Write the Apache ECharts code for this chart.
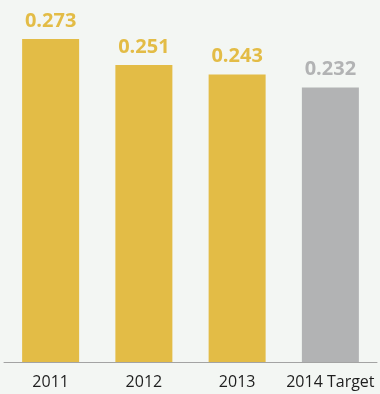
<!DOCTYPE html>
<html>
<head>
<meta charset="utf-8">
<script src="https://cdn.jsdelivr.net/npm/echarts@6/dist/echarts.min.js"></script>
<style>
  html, body { margin: 0; padding: 0; background: #F3F6F3; }
  #chart { width: 380px; height: 394px; }
</style>
</head>
<body>
<div id="chart"></div>
<script>
// Categories and values
const categories = ['2011', '2012', '2013', '2014 Target'];
const values = [0.273, 0.251, 0.243, 0.232];
const isTarget = [false, false, false, true];

const GOLD = '#E3BC46';
const GREY = '#B2B3B4';

const chart = echarts.init(document.getElementById('chart'));

chart.setOption({
  backgroundColor: '#F3F6F3',
  animation: false,
  grid: { left: 4, right: 3, top: 7, bottom: 32 },
  xAxis: {
    type: 'category',
    data: categories,
    axisLine: { show: true, lineStyle: { color: '#A3A3A3', width: 1 } },
    axisTick: { show: false },
    axisLabel: {
      interval: 0,
      color: '#1E1E1E',
      fontFamily: 'Open Sans',
      fontSize: 16,
      margin: 12
    }
  },
  yAxis: {
    type: 'value',
    min: 0,
    max: 0.3,
    show: false,
    splitLine: { show: false }
  },
  series: [{
    type: 'bar',
    barWidth: 57,
    data: values.map((v, i) => ({
      value: v,
      itemStyle: { color: isTarget[i] ? GREY : GOLD },
      label: { color: isTarget[i] ? GREY : GOLD }
    })),
    label: {
      show: true,
      position: 'top',
      distance: 8,
      fontFamily: 'Open Sans',
      fontWeight: 'bold',
      fontSize: 20,
      formatter: p => p.value.toFixed(3)
    }
  }]
});
</script>
</body>
</html>
